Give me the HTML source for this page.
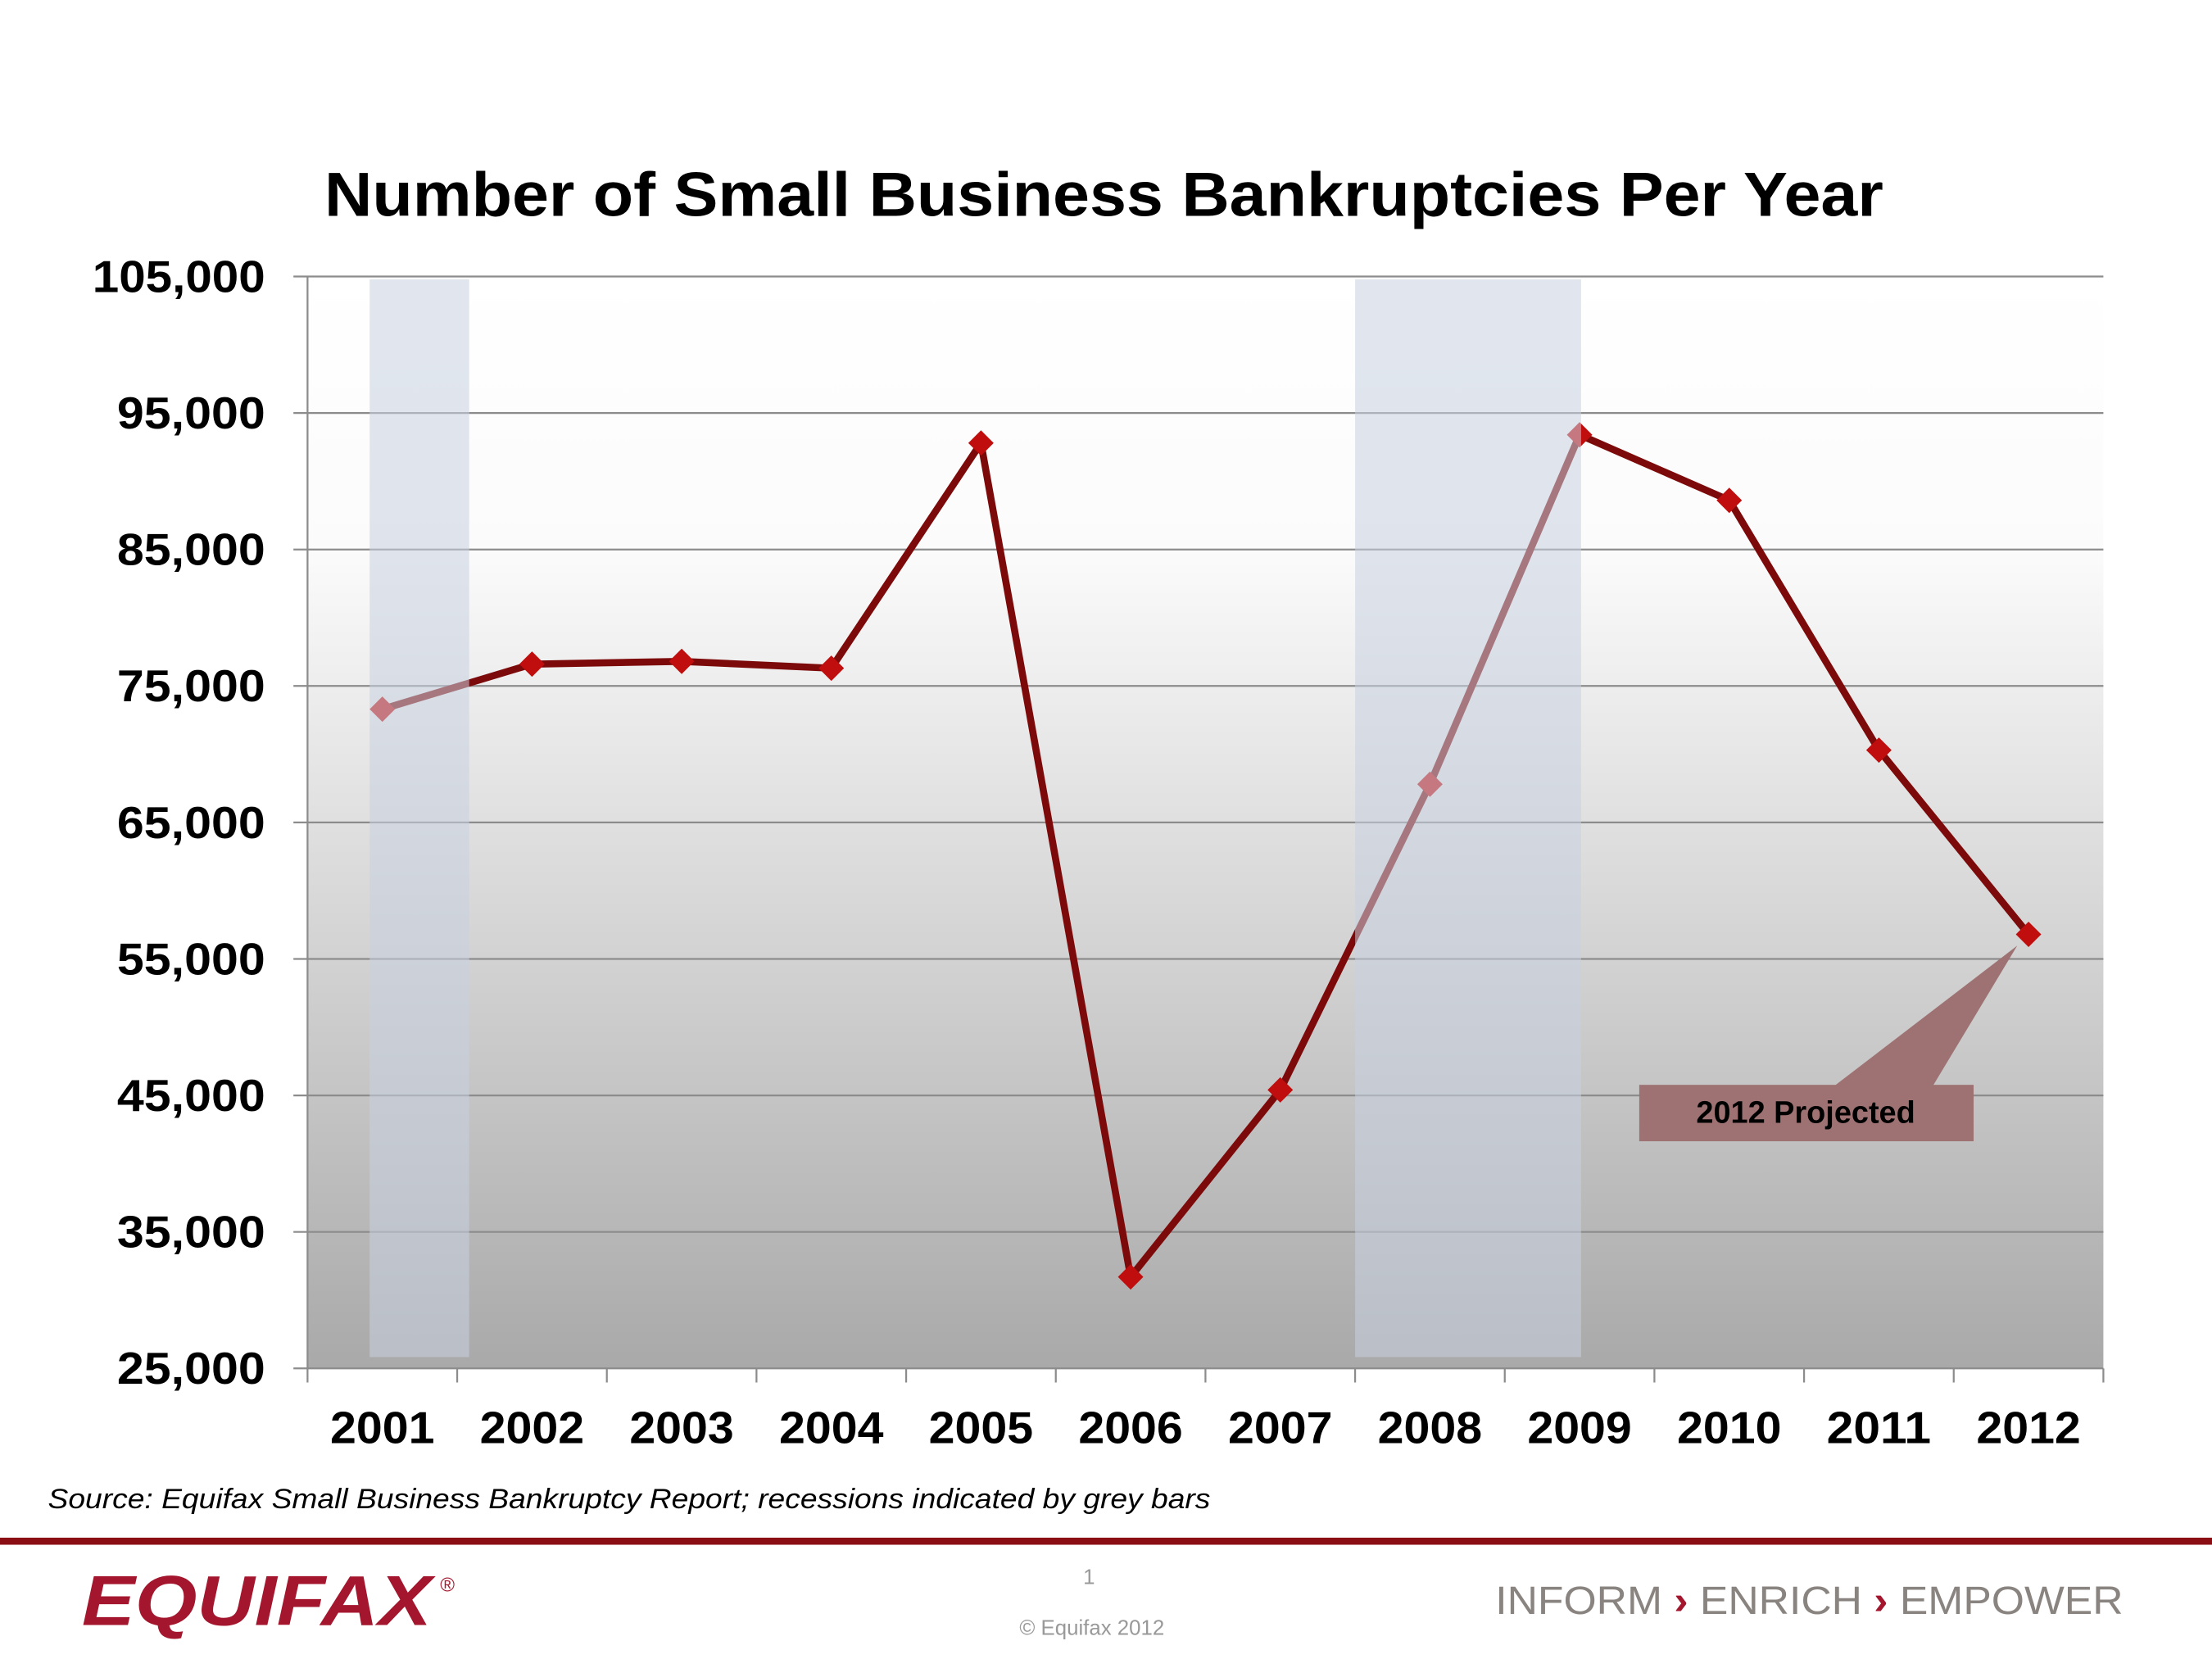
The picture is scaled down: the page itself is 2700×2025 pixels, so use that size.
<!DOCTYPE html>
<html><head><meta charset="utf-8"><style>html,body{margin:0;padding:0;background:#fff}svg{display:block}text{font-family:"Liberation Sans",Arial,sans-serif}</style></head>
<body>
<svg id="c" width="2700" height="2025" viewBox="0 0 1568 1176" xmlns="http://www.w3.org/2000/svg">
<defs><linearGradient id="bg" x1="0" y1="0" x2="0" y2="1"><stop offset="0" stop-color="#ffffff"/><stop offset="0.25" stop-color="#fbfbfb"/><stop offset="1" stop-color="#a9a9a9"/></linearGradient></defs>
<text x="230" y="153" textLength="1105" lengthAdjust="spacingAndGlyphs" font-size="44" font-weight="bold" fill="#000">Number of Small Business Bankruptcies Per Year</text>
<g id="plot"></g>
<text x="34" y="1069" textLength="824" lengthAdjust="spacingAndGlyphs" font-size="20" font-style="italic" fill="#000">Source: Equifax Small Business Bankruptcy Report; recessions indicated by grey bars</text>
<rect x="0" y="1090" width="1568" height="5" fill="#8b0e15"/>
<text x="58" y="1152" textLength="248" lengthAdjust="spacingAndGlyphs" font-size="50" font-weight="bold" font-style="italic" fill="#a3162d">EQUIFAX</text>
<text x="312" y="1128" font-size="14" fill="#a3162d">®</text>
<text x="772" y="1123" text-anchor="middle" font-size="15" fill="#999">1</text>
<text x="774" y="1159" text-anchor="middle" font-size="15" fill="#999">© Equifax 2012</text>
<text x="1060" y="1144" textLength="445" lengthAdjust="spacingAndGlyphs" font-size="28" fill="#8a8480">INFORM <tspan fill="#a3162d" font-weight="bold">›</tspan> ENRICH <tspan fill="#a3162d" font-weight="bold">›</tspan> EMPOWER</text>
</svg>
<script>
const categories=["2001","2002","2003","2004","2005","2006","2007","2008","2009","2010","2011","2012"];
const values=[73300,76600,76800,76300,92800,31700,45400,67800,93400,88600,70300,56800];
const yTicks=[25000,35000,45000,55000,65000,75000,85000,95000,105000];
const recessionStart=[0.415,7.0];
const recessionEnd=[1.08,8.51];
const NS="http://www.w3.org/2000/svg";
const L=218,R=1491,T=196,B=970,yMin=25000,yMax=105000;
const bw=(R-L)/categories.length;
const xPos=i=>L+(i+0.5)*bw;
const xAt=v=>L+v*bw;
const yPos=v=>B-(v-yMin)/(yMax-yMin)*(B-T);
const g=document.getElementById('plot');
function mk(t,a){const e=document.createElementNS(NS,t);for(const k in a)e.setAttribute(k,a[k]);g.appendChild(e);return e;}
let e=mk('rect',{x:L,y:T,width:R-L,height:B-T,fill:'url(#bg)'});


yTicks.forEach(v=>{
 let l=mk('line',{x1:L-10,x2:R,y1:yPos(v),y2:yPos(v),stroke:'#8c8c8c','stroke-width':1.3});
 
 
 const s=v.toLocaleString('en-US');
 let t=mk('text',{x:188,y:yPos(v)+11,'text-anchor':'end','font-size':32,'font-weight':'bold',fill:'#000',textLength:s.length*17.5,lengthAdjust:'spacingAndGlyphs'});
 t.textContent=s;
 
 
});
let ax=mk('line',{x1:L,x2:L,y1:T,y2:B,stroke:'#8c8c8c','stroke-width':1.3});


for(let i=0;i<=categories.length;i++){
 let tk=mk('line',{x1:xAt(i),x2:xAt(i),y1:B,y2:B+10,stroke:'#8c8c8c','stroke-width':1.3});
 
 
}
categories.forEach((c,i)=>{
 let t=mk('text',{x:xPos(i),y:1023,'text-anchor':'middle','font-size':32,'font-weight':'bold',fill:'#000',textLength:74,lengthAdjust:'spacingAndGlyphs'});
 t.textContent=c;
 
 
});
let pts=values.map((v,i)=>xPos(i)+','+yPos(v)).join(' ');
let pl=mk('polyline',{points:pts,fill:'none',stroke:'#7d0a0a','stroke-width':5,'stroke-linejoin':'round'});


values.forEach((v,i)=>{
 const x=xPos(i),y=yPos(v),s=9;
 let m=mk('polygon',{points:`${x},${y-s} ${x+s},${y} ${x},${y+s} ${x-s},${y}`,fill:'#c00d0d'});
 
 
});
recessionStart.forEach((s,i)=>{
 let r=mk('rect',{x:xAt(s),y:T+2,width:xAt(recessionEnd[i])-xAt(s),height:962-T-2,fill:'#c8d2e0','fill-opacity':0.55});
 
 
});
const li=categories.length-1,px=xPos(li),py=yPos(values[li]);
let tri=mk('polygon',{points:`1300,770 1370,770 ${px-8},${py+8}`,fill:'#9e7272'});


let bx=mk('rect',{x:1162,y:769,width:237,height:40,fill:'#9e7272'});


let ct=mk('text',{x:1280,y:796,'text-anchor':'middle','font-size':22,'font-weight':'bold',fill:'#000'});
ct.textContent='2012 Projected';


</script>
</body></html>
